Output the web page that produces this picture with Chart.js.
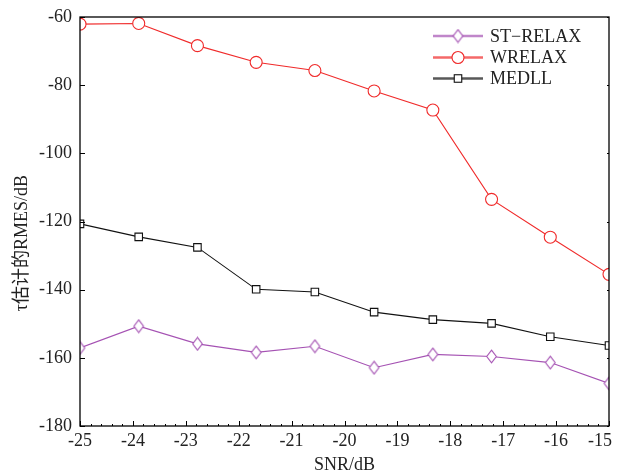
<!DOCTYPE html>
<html>
<head>
<meta charset="utf-8">
<script src="https://cdn.jsdelivr.net/npm/chart.js@4/dist/chart.umd.min.js"></script>
<style>
html,body{margin:0;padding:0;background:#fff;}
#wrap{width:618px;height:474px;position:relative;}
</style>
</head>
<body>
<div id="wrap"><canvas id="c" width="618" height="474"></canvas></div>
<script>
// ---- data ----
const snr = [-25, -23.89, -22.78, -21.67, -20.56, -19.44, -18.33, -17.22, -16.11, -15];
const stRelax = [-157.1, -150.7, -155.9, -158.4, -156.6, -162.9, -159.0, -159.6, -161.4, -167.5];
const wrelax = [-62.1, -61.9, -68.4, -73.3, -75.7, -81.7, -87.3, -113.5, -124.6, -135.5];
const medll = [-120.7, -124.5, -127.6, -139.9, -140.7, -146.6, -148.8, -149.9, -153.8, -156.4];
const seriesNames = ['ST\u2212RELAX', 'WRELAX', 'MEDLL'];
const xTitle = 'SNR/dB';
const yTitle = '\u03c4估计的RMES/dB';

const PURPLE = '#a552b3';
const RED = '#f02a2a';
const BLACK = '#111111';
const SERIF = '"Liberation Serif", "Times New Roman", "Noto Sans CJK SC", serif';

function makeDiamond(color) {
  const cv = document.createElement('canvas');
  cv.width = 13; cv.height = 15;
  const g = cv.getContext('2d');
  g.strokeStyle = color; g.lineWidth = 1.1;
  g.beginPath();
  g.moveTo(6.5, 1.2); g.lineTo(11.3, 7.5); g.lineTo(6.5, 13.8); g.lineTo(1.7, 7.5); g.closePath();
  g.fillStyle = '#fff'; g.fill();
  g.stroke();
  return cv;
}
const diamond = makeDiamond(PURPLE);

function pts(ys) { return ys.map((y, i) => ({x: snr[i], y: y})); }

const decor = {
  id: 'decor',
  afterDraw(chart) {
    const ctx = chart.ctx;
    const a = chart.chartArea;
    const xs = chart.scales.x, ys = chart.scales.y;
    ctx.save();
    ctx.strokeStyle = '#000';
    ctx.lineWidth = 1.3;
    ctx.strokeRect(a.left, a.top, a.right - a.left, a.bottom - a.top);
    ctx.lineWidth = 1;
    xs.ticks.forEach(t => {
      const px = Math.round(xs.getPixelForValue(t.value)) + 0.5;
      ctx.beginPath(); ctx.moveTo(px, a.bottom); ctx.lineTo(px, a.bottom - 5); ctx.stroke();
    });
    for (let k = 0; k <= 50; k++) {
      const v = xs.min + k * (xs.max - xs.min) / 50;
      const px = Math.round(xs.getPixelForValue(v)) + 0.5;
      ctx.beginPath(); ctx.moveTo(px, a.bottom); ctx.lineTo(px, a.bottom - 2); ctx.stroke();
    }
    ys.ticks.forEach(t => {
      const py = Math.round(ys.getPixelForValue(t.value)) + 0.5;
      ctx.beginPath(); ctx.moveTo(a.left, py); ctx.lineTo(a.left + 5, py); ctx.stroke();
      ctx.beginPath(); ctx.moveTo(a.right, py); ctx.lineTo(a.right - 2, py); ctx.stroke();
    });
    ctx.fillStyle = '#222';
    ctx.font = '18px ' + SERIF;
    ctx.textAlign = 'center';
    ctx.textBaseline = 'middle';
    ctx.fillText(xTitle, (a.left + a.right) / 2, 465);
    ctx.save();
    ctx.translate(22, 243);
    ctx.rotate(-Math.PI / 2);
    ctx.fillText(yTitle, 0, 0);
    ctx.restore();
    // legend
    const lx0 = 433, lx1 = 483, tx = 490;
    const rows = [36, 57.5, 78.5];
    chart.data.datasets.forEach((ds, i) => {
      const y = rows[i];
      ctx.save();
      ctx.globalAlpha = 0.7;
      ctx.strokeStyle = ds.borderColor;
      ctx.lineWidth = 2.4;
      ctx.beginPath(); ctx.moveTo(lx0, y); ctx.lineTo(lx1, y); ctx.stroke();
      ctx.restore();
      const cx = (lx0 + lx1) / 2;
      ctx.save();
      ctx.fillStyle = '#fff';
      ctx.strokeStyle = ds.borderColor;
      ctx.lineWidth = 1.1;
      if (ds.pointStyle === 'circle') {
        ctx.beginPath(); ctx.arc(cx, y, ds.pointRadius, 0, Math.PI * 2); ctx.fill(); ctx.stroke();
      } else if (ds.pointStyle === 'rect') {
        const s = Math.SQRT1_2 * ds.pointRadius;
        ctx.fillRect(cx - s, y - s, 2 * s, 2 * s); ctx.strokeRect(cx - s, y - s, 2 * s, 2 * s);
      } else {
        ctx.drawImage(ds.pointStyle, cx - ds.pointStyle.width / 2, y - ds.pointStyle.height / 2);
      }
      ctx.restore();
      ctx.fillStyle = '#222';
      ctx.font = '18px ' + SERIF;
      ctx.textAlign = 'left';
      ctx.textBaseline = 'middle';
      ctx.fillText(ds.label, tx, y + 1);
    });
    ctx.restore();
  }
};

new Chart(document.getElementById('c'), {
  type: 'scatter',
  data: {
    datasets: [
      {label: seriesNames[0], data: pts(stRelax), showLine: true, borderColor: PURPLE, backgroundColor: '#fff',
       borderWidth: 1.1, pointStyle: diamond, pointRadius: 6, pointBorderWidth: 1.1},
      {label: seriesNames[1], data: pts(wrelax), showLine: true, borderColor: RED, backgroundColor: '#fff',
       borderWidth: 1.1, pointStyle: 'circle', pointRadius: 6, pointBorderWidth: 1.1},
      {label: seriesNames[2], data: pts(medll), showLine: true, borderColor: BLACK, backgroundColor: '#fff',
       borderWidth: 1.1, pointStyle: 'rect', pointRadius: 5.3, pointBorderWidth: 1.1}
    ]
  },
  options: {
    responsive: false,
    animation: false,
    layout: {padding: {left: 0, top: 17, right: 9, bottom: 0}},
    plugins: {legend: {display: false}, tooltip: {enabled: false}},
    scales: {
      x: {
        type: 'linear', min: -25, max: -15,
        grid: {display: false, drawTicks: false},
        border: {display: false},
        ticks: {stepSize: 1, color: '#222', font: {family: SERIF, size: 18}, padding: 4, maxRotation: 0,
          callback: (v, i, arr) => (i === arr.length - 1 ? String(v) + '\u2002\u2002' : String(v))},
        afterFit(s) { s.height = 48; s.paddingLeft = 0; s.paddingRight = 0; }
      },
      y: {
        min: -180, max: -60,
        grid: {display: false, drawTicks: false},
        border: {display: false},
        ticks: {stepSize: 20, color: '#222', font: {family: SERIF, size: 18}, padding: 8},
        afterFit(s) { s.width = 80; s.paddingTop = 0; s.paddingBottom = 0; }
      }
    }
  },
  plugins: [decor]
});
</script>
</body>
</html>
